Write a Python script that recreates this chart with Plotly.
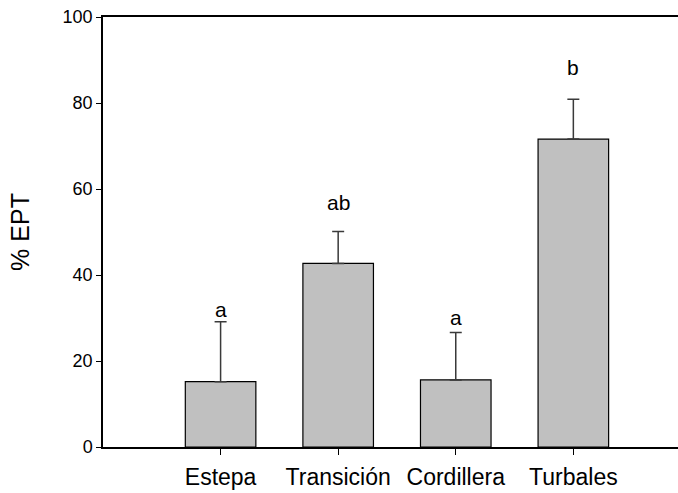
import plotly.graph_objects as go

# Mean % EPT per zone, with upper standard error and significance letters
zones = ["Estepa", "Transición", "Cordillera", "Turbales"]
ept_mean = [15.2, 42.7, 15.6, 71.6]
ept_err = [13.9, 7.4, 11.0, 9.3]
sig_letters = ["a", "ab", "a", "b"]
letter_y = [32.0, 56.9, 30.2, 88.3]

FONT = "Liberation Sans, Arial, sans-serif"

fig = go.Figure()
fig.add_trace(go.Bar(
    x=zones,
    y=ept_mean,
    width=0.6,
    marker=dict(color="#c0c0c0", line=dict(color="#000000", width=1.2)),
    error_y=dict(
        type="data",
        symmetric=False,
        array=ept_err,
        arrayminus=[0] * len(ept_err),
        color="#3a3a3a",
        thickness=1.5,
        width=6,
    ),
))

for z, lab, ly in zip(zones, sig_letters, letter_y):
    fig.add_annotation(
        x=z, y=ly, text=lab, showarrow=False,
        xanchor="center", yanchor="middle",
        font=dict(family=FONT, size=21, color="#000000"),
    )

fig.update_layout(
    width=678, height=493,
    margin=dict(l=103, r=0, t=17, b=46, autoexpand=False),
    paper_bgcolor="white",
    plot_bgcolor="white",
    showlegend=False,
    bargap=0.4,
)
fig.update_xaxes(
    type="category",
    range=[-1.0, 3.89],
    automargin=False,
    showline=True, linecolor="#000000", linewidth=1.5,
    mirror=True,
    ticks="outside", ticklen=6, tickcolor="#000000", tickwidth=1,
    ticklabelstandoff=3,
    showgrid=False, zeroline=False,
    tickfont=dict(family=FONT, size=23, color="#000000"),
)
fig.update_yaxes(
    range=[0, 100],
    tickvals=[0, 20, 40, 60, 80, 100],
    automargin=False,
    showline=True, linecolor="#000000", linewidth=1.5,
    ticks="outside", ticklen=5, tickcolor="#000000", tickwidth=1,
    showgrid=False, zeroline=False,
    tickfont=dict(family=FONT, size=18, color="#000000"),
    title=dict(text="% EPT", font=dict(family=FONT, size=25, color="#000000"), standoff=26),
)

fig.write_html("out.html")
